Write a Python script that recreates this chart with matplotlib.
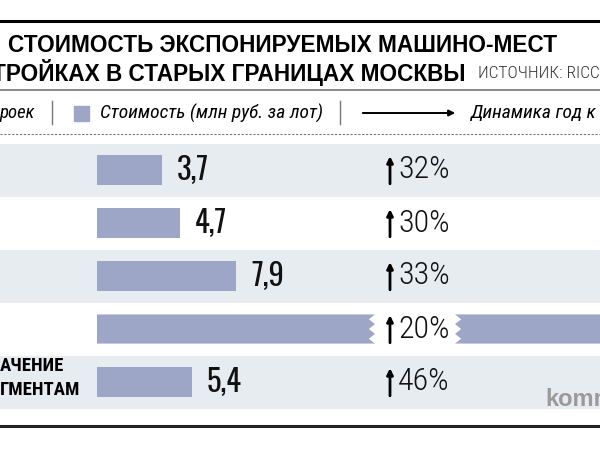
import matplotlib.pyplot as plt
from matplotlib.patches import Polygon, Rectangle

# данные
title_lines = ["СТОИМОСТЬ ЭКСПОНИРУЕМЫХ МАШИНО-МЕСТ", "ТРОЙКАХ В СТАРЫХ ГРАНИЦАХ МОСКВЫ"]
source = "ИСТОЧНИК: RICCI"
legend_items = ["роек", "Стоимость (млн руб. за лот)", "Динамика год к году"]
row_label = ["АЧЕНИЕ", "ГМЕНТАМ"]
values = [3.7, 4.7, 7.9, 35.0, 5.4]
value_labels = ["3,7", "4,7", "7,9", "", "5,4"]
growth = [32, 30, 33, 20, 46]
broken_row = 3

COND = ["Roboto Condensed", "DejaVu Sans"]
NUM = ["Oswald", "Roboto Condensed", "DejaVu Sans"]
SANS = ["Liberation Sans", "DejaVu Sans"]
band_color = "#e6ecf0"
bar_color = "#9ea6c8"

PX = 17.6  # пикселей на единицу
X0 = 97    # где ноль шкалы


def px(x):
    return (x - X0) / PX


fig = plt.figure(figsize=(6, 4.5), dpi=100, facecolor="white")

# строки с барами
bx = fig.add_axes([0, 1 - 408.5 / 450, 1, 265 / 450], zorder=1)
bx.set_xlim(px(0), px(600))
bx.set_ylim(4.5, -0.5)
bx.axis("off")

# шапка и подписи в пикселях, поверх
ax0 = fig.add_axes([0, 0, 1, 1], zorder=2)
ax0.set_xlim(0, 600)
ax0.set_ylim(450, 0)
ax0.axis("off")

ax0.plot([0, 600], [21, 21], color="black", lw=2.2)
ax0.text(8, 45, title_lines[0], family=SANS, weight="bold", fontsize=16.3, va="center")
ax0.text(-8, 72, title_lines[1], family=SANS, weight="bold", fontsize=16.3, va="center")
ax0.text(478, 74, source, family=COND, weight="light", fontsize=12.5, va="center", color="#333333")
ax0.plot([0, 600], [90, 90], color="#8a8a8a", lw=1.4)

# легенда
ax0.text(35, 113, legend_items[0], family=COND, style="italic", fontsize=13.5, va="center", ha="right")
ax0.plot([52, 52], [101, 124], color="#777777", lw=1)
ax0.add_patch(Rectangle((74, 106), 15, 15, color=bar_color))
ax0.text(100, 113, legend_items[1], family=COND, style="italic", fontsize=14, va="center")
ax0.plot([340, 340], [101, 124], color="#777777", lw=1)
ax0.annotate("", xy=(458, 113), xytext=(360, 113),
             arrowprops=dict(arrowstyle="-|>", lw=1.4, color="black", mutation_scale=9))
ax0.text(470, 113, legend_items[2], family=COND, style="italic", fontsize=14, va="center")
ax0.plot([0, 600], [134, 134], color="#777777", lw=0.8, ls=(0, (2, 1.5)))

ax0.plot([0, 600], [426, 426], color="#222222", lw=2.2)

for i in range(0, len(values), 2):
    bx.axhspan(i - 0.5, i + 0.5, color=band_color, lw=0)

h = 0.55
rows = [i for i in range(len(values)) if i != broken_row]
bx.barh(rows, [values[i] for i in rows], height=h, color=bar_color)

# разорванный бар
brk0, brk1 = px(375), px(455)
yc = broken_row
top, bot = yc - h / 2, yc + h / 2
n = 6
tooth = 0.35
edge_l = [(brk0 - (tooth if k % 2 else 0), top + (bot - top) * k / n) for k in range(n + 1)]
left_poly = [(0, top)] + edge_l + [(0, bot)]
bx.add_patch(Polygon(left_poly, closed=True, color=bar_color, lw=0))
edge_r = [(brk1 + (tooth if k % 2 else 0), top + (bot - top) * k / n) for k in range(n + 1)]
right_poly = [(values[broken_row], top)] + edge_r + [(values[broken_row], bot)]
bx.add_patch(Polygon(right_poly, closed=True, color=bar_color, lw=0))

for i, (v, lab, g) in enumerate(zip(values, value_labels, growth)):
    if lab:
        bx.text(v + 0.85, i, lab, family=NUM, weight=400, fontsize=22, va="center", ha="left",
                color="#111111")
    bx.annotate("", xy=(px(390), i - 0.26), xytext=(px(390), i + 0.26),
                arrowprops=dict(arrowstyle="-|>", lw=2.0, color="black", mutation_scale=9,
                                shrinkA=0, shrinkB=0))
    bx.text(px(398), i, f"{g}%", family=COND, weight="light", fontsize=23, va="center", ha="left",
            color="#111111")

ax0.text(0, 366, row_label[0], family=COND, weight="bold", fontsize=13.5, va="center")
ax0.text(0, 390, row_label[1], family=COND, weight="bold", fontsize=13.5, va="center")
ax0.text(545, 400, "kommersant.ru", family=SANS, weight="bold", fontsize=17, va="center", color="#9a9a9a")

fig.savefig("out.png", dpi=100)
